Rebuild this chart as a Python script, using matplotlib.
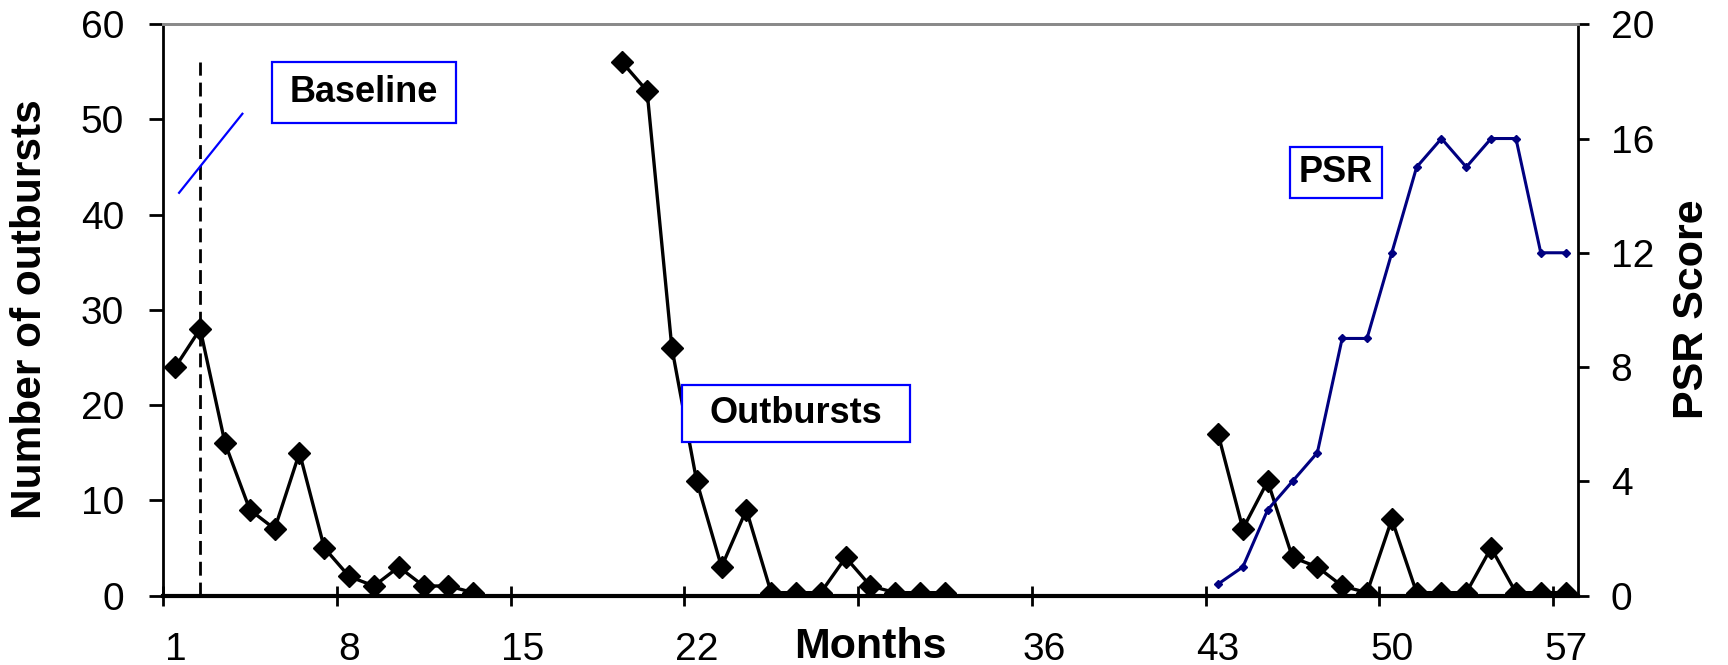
import numpy as np
import matplotlib.pyplot as plt
from matplotlib.patches import Rectangle
from matplotlib.ticker import FixedLocator, FixedFormatter

plt.rcParams['font.family'] = ['Liberation Sans', 'DejaVu Sans']

nan = np.nan

# Months on the category axis
months = np.arange(1, 58)

# Number of outbursts per month (nan = no data)
outbursts = [24, 28, 16, 9, 7, 15, 5, 2, 1, 3, 1, 1, 0.3,
             nan, nan, nan, nan, nan,
             56, 53, 26, 12, 3, 9, 0.3, 0.3, 0.3, 4, 1, 0.3, 0.3, 0.3,
             nan, nan, nan, nan, nan, nan, nan, nan, nan, nan,
             17, 7, 12, 4, 3, 1, 0.3, 8, 0.3, 0.3, 0.3, 5, 0.3, 0.3, 0.3]

# PSR score (right axis), only recorded at the end
psr = [nan] * 42 + [0.4, 1, 3, 4, 5, 9, 9, 12, 15, 16, 15, 16, 16, 12, 12]

# Tick labels of the month axis ("29" sits under the axis title)
month_ticks = [1, 8, 15, 22, 29, 36, 43, 50, 57]
month_labels = ['1', '8', '15', '22', '', '36', '43', '50', '57']

# Baseline marker
baseline_month = 2
baseline_top = 56

fig = plt.figure(figsize=(17.28, 6.65), dpi=100)
ax = fig.add_axes([0.0943, 0.1045, 0.8189, 0.859])
ax2 = ax.twinx()

# Outbursts
ax.plot(months, outbursts, color='black', lw=2.4, marker='D', ms=11.5, zorder=3)
# Baseline dashed line
ax.plot([baseline_month, baseline_month], [0, baseline_top], color='black',
        lw=2, linestyle=(0, (5, 2.5)), zorder=2)

# PSR score
ax2.plot(months, psr, color='#000080', lw=2.2, marker='D', ms=4.5, zorder=3)

ax.set_xlim(0.5, 57.5)
ax.set_ylim(0, 60)
ax2.set_ylim(0, 20)

# Axis ticks
ax.set_xticks(np.arange(0.5, 57, 7))
ax.set_xticklabels([])
ax.xaxis.set_minor_locator(FixedLocator(month_ticks))
ax.xaxis.set_minor_formatter(FixedFormatter(month_labels))
ax.tick_params(axis='x', which='major', direction='inout', length=14, width=2)
ax.tick_params(axis='x', which='minor', length=0, pad=26, labelsize=28)
ax.set_yticks(np.arange(0, 61, 10))
ax.tick_params(axis='y', direction='out', length=10, width=2, pad=18, labelsize=28)
ax2.set_yticks(np.arange(0, 21, 4))
ax2.tick_params(axis='y', direction='out', length=8, width=2, pad=15.5, labelsize=28)

# Spines
for a in (ax, ax2):
    a.spines['top'].set_color('#8a8a8a')
    a.spines['top'].set_linewidth(2)
ax.spines['right'].set_visible(False)
ax.spines['left'].set_linewidth(2)
ax.spines['bottom'].set_linewidth(3)
ax2.spines['left'].set_visible(False)
ax2.spines['bottom'].set_visible(False)
ax2.spines['right'].set_linewidth(2)

# Axis titles
ax.text(29, -0.11, 'Months', transform=ax.get_xaxis_transform(), ha='center',
        va='baseline', fontsize=31, fontweight='bold')
fig.text(0.0175, 0.535, 'Number of outbursts', rotation=90, ha='center', va='center',
         fontsize=30.5, fontweight='bold')
fig.text(0.979, 0.535, 'PSR Score', rotation=90, ha='center', va='center',
         fontsize=31, fontweight='bold')

# Callout boxes (drawn in left-axis units on top of both series)
boxes = [('Baseline', 4.9, 49.6, 7.4, 6.4),
         ('Outbursts', 21.4, 16.1, 9.2, 6.0),
         ('PSR', 45.9, 41.8, 3.7, 5.3)]
for label, x0, y0, w, h in boxes:
    ax2.add_patch(Rectangle((x0, y0), w, h, transform=ax.transData, facecolor='white',
                            edgecolor='#0000FF', lw=1.6, zorder=5))
    ax2.text(x0 + w / 2, y0 + h / 2, label, transform=ax.transData, ha='center',
             va='center', fontsize=26, fontweight='bold', zorder=6)

# Pointer line from the Baseline box
ax.plot([1.15, 3.7], [42.3, 50.6], color='#0000FF', lw=1.6, zorder=4)

fig.savefig('out.png', dpi=100)
